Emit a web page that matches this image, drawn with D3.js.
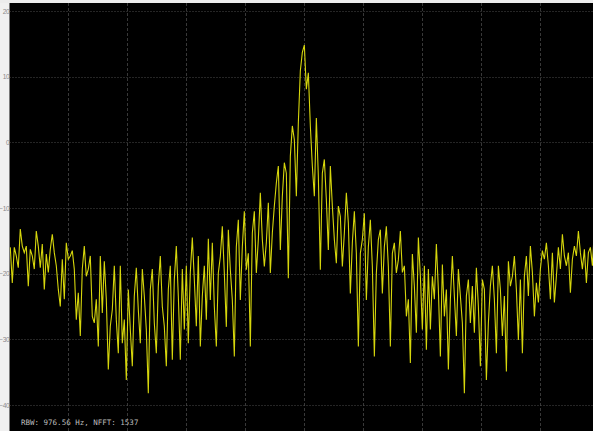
<!DOCTYPE html>
<html>
<head>
<meta charset="utf-8">
<script src="https://cdn.jsdelivr.net/npm/d3@7"></script>
<style>
  html, body { margin: 0; padding: 0; background: #f0f0f0; overflow: hidden; }
  svg { display: block; }
</style>
</head>
<body>
<svg id="chart" width="593" height="431"></svg>
<script>
// Power axis ticks (dBm) and frequency grid positions (kHz)
const levelTicks = [20, 10, 0, -10, -20, -30, -40];
const freqGrid = [-600, -450, -300, -150, 0, 150, 300, 450, 600];

// Spectrum bins: start frequency and bin spacing in kHz
const freqStartKHz = -748;
const freqStepKHz = 5.09;

// Measured power per bin (dBm)
const powerDbm = [
  -16.0, -21.4, -16.0, -17.3, -19.1, -13.2, -15.8, -16.8, -15.8, -21.9,
  -16.3, -17.3, -19.3, -13.5, -15.8, -19.1, -15.5, -22.4, -17.0, -19.8,
  -16.3, -14.0, -16.8, -18.8, -22.4, -25.0, -17.8, -23.9, -15.3, -17.8,
  -17.3, -16.5, -19.3, -27.0, -22.9, -29.5, -19.3, -15.8, -20.4, -19.3,
  -17.3, -26.5, -27.5, -23.9, -31.1, -17.3, -26.0, -18.1, -23.9, -34.6,
  -28.0, -25.5, -18.8, -27.0, -32.1, -18.8, -30.6, -27.0, -36.2, -22.4,
  -28.5, -34.1, -23.4, -19.1, -25.5, -30.6, -19.3, -23.4, -28.5, -38.2,
  -22.4, -19.3, -27.5, -32.1, -21.9, -17.3, -25.0, -28.0, -34.1, -22.4,
  -18.8, -33.1, -20.9, -15.8, -23.4, -33.1, -19.3, -28.5, -18.8, -30.6,
  -19.8, -14.5, -20.9, -28.0, -17.3, -31.1, -23.4, -18.8, -27.0, -14.7,
  // centre region
  -24.0, -15.3, -25.0, -31.1, -19.9, -17.4, -12.8, -19.9, -28.1, -13.3,
  -19.4, -24.0, -32.6, -15.9, -11.8, -24.0, -15.9, -10.5, -19.4, -16.9,
  -31.1, -13.8, -10.5, -19.9, -14.8, -7.7, -14.8, -18.9, -15.3, -9.2,
  -19.9, -13.8, -9.7, -6.2, -3.6, -16.4, -8.2, -3.1, -4.7, -20.7,
  -2.1, 2.5, 0.4, -8.2, 3.0, 10.9, 13.7, 14.8, 8.1, 10.6,
  2.5, -3.6, -8.2, 3.7, -5.2, -19.4, -4.7, -2.6, -8.7, -16.4,
  -3.6, -9.7, -14.8, -18.4, -9.7, -11.3, -18.9, -13.8, -7.7, -12.3,
  -23.0, -15.3, -10.5, -16.9, -31.1, -16.9, -14.8, -10.8, -24.0, -15.9,
  -11.8, -18.9, -32.6, -19.9, -14.8, -13.3, -23.0, -15.9, -12.8, -18.9,
  -31.1, -16.9, -15.3, -19.9, -17.9,
  // upper band
  -13.5, -19.8, -18.8, -26.5, -23.9, -33.6, -17.0, -21.9, -29.0, -14.5,
  -20.4, -28.5, -18.8, -31.6, -19.3, -28.5, -20.4, -23.9, -15.5, -22.4,
  -32.6, -18.6, -26.5, -22.4, -34.6, -23.9, -17.3, -23.4, -29.5, -19.3,
  -23.4, -27.5, -38.2, -23.4, -20.9, -27.5, -21.9, -29.0, -19.1, -25.0,
  -34.1, -20.9, -22.4, -36.2, -27.5, -21.9, -18.8, -23.9, -32.1, -18.8,
  -22.4, -29.5, -23.4, -34.9, -18.1, -21.9, -20.4, -17.3, -22.4, -30.1,
  -20.9, -32.1, -20.4, -17.3, -23.4, -15.8, -19.8, -26.5, -21.4, -24.4,
  -19.3, -16.5, -17.8, -15.3, -18.8, -23.9, -16.8, -24.4, -20.4, -16.0,
  -19.3, -14.0, -17.3, -18.8, -16.8, -22.9, -17.8, -15.8, -17.3, -13.5,
  -16.8, -19.3, -16.3, -21.4, -16.8, -16.0, -18.8, -13.2, -15.8
];

const statusText = "RBW: 976.56 Hz, NFFT: 1537";

const svg = d3.select("#chart");
const W = 593, H = 431;
const plot = { left: 9.5, top: 3, right: 599, bottom: 480 };

const x = d3.scaleLinear().domain([-750, 750]).range([plot.left, plot.right]);
const y = d3.scaleLinear().domain([-40, 20]).range([405, 11]);

// Plot background
svg.append("rect")
  .attr("x", plot.left).attr("y", plot.top)
  .attr("width", plot.right - plot.left).attr("height", plot.bottom - plot.top)
  .attr("fill", "#000");

svg.append("clipPath").attr("id", "plotClip")
  .append("rect")
  .attr("x", plot.left).attr("y", plot.top)
  .attr("width", plot.right - plot.left).attr("height", plot.bottom - plot.top);

// Grid
const grid = svg.append("g");
grid.selectAll("line.v").data(freqGrid).join("line")
  .attr("class", "v")
  .attr("x1", d => Math.round(x(d)) + 0.5).attr("x2", d => Math.round(x(d)) + 0.5)
  .attr("y1", plot.top).attr("y2", H)
  .attr("stroke", "#383838").attr("stroke-width", 1)
  .attr("stroke-dasharray", "3,2");
grid.selectAll("line.h").data(levelTicks).join("line")
  .attr("class", "h")
  .attr("x1", plot.left).attr("x2", W)
  .attr("y1", d => Math.round(y(d)) + 0.5).attr("y2", d => Math.round(y(d)) + 0.5)
  .attr("stroke", "#4a4a4a").attr("stroke-width", 1)
  .attr("stroke-dasharray", "1,2");

// Y axis labels
const yAxis = d3.axisLeft(y).tickValues(levelTicks).tickSize(0).tickPadding(0.4);
const ya = svg.append("g").attr("transform", `translate(${plot.left},0)`).call(yAxis);
ya.select(".domain").remove();
ya.selectAll(".tick text")
  .attr("fill", "#8a8a8a")
  .style("font-family", "'Liberation Sans', Arial, sans-serif")
  .style("font-size", "6.6px")
  .style("letter-spacing", "-0.45px");

// Spectrum trace
const series = powerDbm.map((v, i) => ({ f: freqStartKHz + i * freqStepKHz, p: v }));
const line = d3.line().x(d => x(d.f)).y(d => y(d.p));
svg.append("path")
  .datum(series)
  .attr("clip-path", "url(#plotClip)")
  .attr("d", line)
  .attr("fill", "none")
  .attr("stroke", "#d6d60c")
  .attr("stroke-width", 1.1)
  .attr("stroke-linejoin", "miter");

// Status readout
svg.append("text")
  .attr("x", 21).attr("y", 425)
  .attr("fill", "#bdbdbd")
  .style("font-family", "'DejaVu Sans Mono', monospace")
  .style("font-size", "7.5px")
  .text(statusText);

// Top strip
svg.append("rect").attr("x", 0).attr("y", 0).attr("width", W).attr("height", plot.top)
  .attr("fill", "#ececec");
</script>
</body>
</html>
